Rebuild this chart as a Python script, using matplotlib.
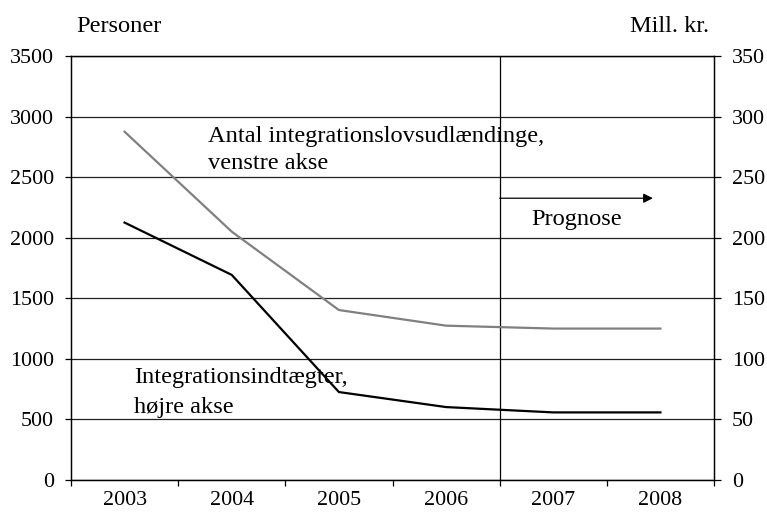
import matplotlib
matplotlib.use("Agg")
import matplotlib.pyplot as plt
import numpy as np

years = ["2003", "2004", "2005", "2006", "2007", "2008"]
personer = [2875, 2050, 1403, 1274, 1250, 1250]          # left axis, gray
indtaegter = [212.5, 169.3, 72.6, 60.2, 55.8, 55.8]       # right axis, black (mill. kr.)
left_ticks = [0, 500, 1000, 1500, 2000, 2500, 3000, 3500]
right_ticks = [0, 50, 100, 150, 200, 250, 300, 350]

plt.rcParams['font.family'] = ['Liberation Serif', 'DejaVu Serif']

TICK_FS = 15.8
TEXT_FS = 17.6

fig = plt.figure(figsize=(7.67, 5.23), dpi=100)
ax = fig.add_axes([71/767, 1-480/523, (714-71)/767, (480-56)/523])
ax2 = ax.twinx()

x = np.arange(len(years))

ax.set_xlim(-0.5, len(years) - 0.5)
ax.set_ylim(0, 3500)
ax2.set_ylim(0, 350)

for v in left_ticks:
    ax.axhline(v, color='#202020', lw=0.9, zorder=1)

ax.plot(x, personer, color='#808080', lw=1.6, zorder=3)
ax2.plot(x, indtaegter, color='black', lw=1.6, zorder=3)

# prognosis separator and arrow
ax.axvline(3.5, color='black', lw=0.9, zorder=2)
ax.annotate('', xy=(4.93, 2326), xytext=(3.5, 2326),
            arrowprops=dict(arrowstyle='-|>', color='black', lw=0.9,
                            mutation_scale=14, shrinkA=0, shrinkB=0))
ax.text(4.217, 2147, 'Prognose', fontsize=TEXT_FS, ha='center', va='center')

ax.text(0.778, 2794, 'Antal integrationslovsudlændinge,', fontsize=TEXT_FS,
        ha='left', va='baseline')
ax.text(0.778, 2566, 'venstre akse', fontsize=TEXT_FS, ha='left', va='baseline')
ax.text(0.09, 797, 'Integrationsindtægter,', fontsize=TEXT_FS, ha='left', va='baseline')
ax.text(0.09, 555, 'højre akse', fontsize=TEXT_FS, ha='left', va='baseline')

# axes ticks
ax.set_xticks(np.arange(-0.5, len(years), 1.0))
ax.set_xticklabels([])
ax.set_xticks(x, minor=True)
ax.set_xticklabels(years, minor=True, fontsize=TICK_FS)
ax.tick_params(axis='x', which='major', direction='out', length=4.5, width=0.9)
ax.tick_params(axis='x', which='minor', length=0, pad=8)

ax.set_yticks(left_ticks)
ax.set_yticklabels([str(v) for v in left_ticks], fontsize=TICK_FS)
ax.tick_params(axis='y', direction='out', length=4.5, width=0.9, pad=8)

ax2.set_yticks(right_ticks)
ax2.set_yticklabels([str(v) for v in right_ticks], fontsize=TICK_FS)
ax2.tick_params(axis='y', direction='out', length=5, width=0.9, pad=8)

for a in (ax, ax2):
    for s in a.spines.values():
        s.set_linewidth(0.9)
        s.set_color('black')

fig.text(76/767, 1-26/523, 'Personer', fontsize=TEXT_FS, ha='left', va='center')
fig.text(709/767, 1-26/523, 'Mill. kr.', fontsize=TEXT_FS, ha='right', va='center')

fig.savefig('out.png', dpi=100)
